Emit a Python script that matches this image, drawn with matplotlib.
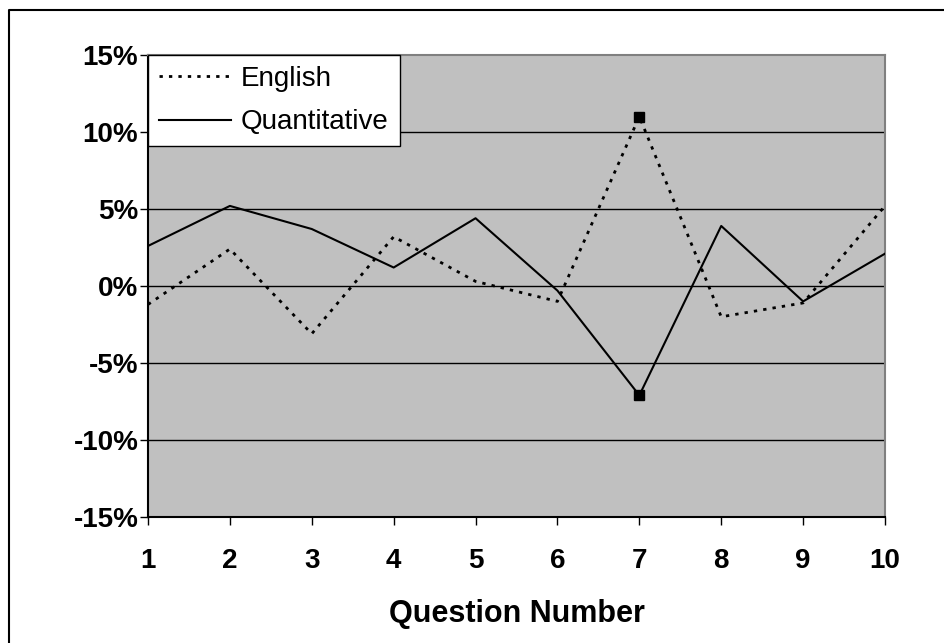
import matplotlib
matplotlib.use('Agg')
import matplotlib.pyplot as plt
from matplotlib.lines import Line2D
from matplotlib.ticker import FuncFormatter

# chart data (differences, in percent)
questions = [1, 2, 3, 4, 5, 6, 7, 8, 9, 10]
english = [-1.2, 2.4, -3.1, 3.2, 0.3, -1.0, 11.0, -2.0, -1.1, 5.2]
quantitative = [2.6, 5.2, 3.7, 1.2, 4.4, -0.3, -7.1, 3.9, -1.0, 2.1]
y_ticks = [-15, -10, -5, 0, 5, 10, 15]
marked = 6  # question 7 carries a marker on both series

plt.rcParams['font.family'] = ['Liberation Sans', 'DejaVu Sans']

fig = plt.figure(figsize=(9.44, 6.43), dpi=100)
ax = fig.add_axes([148 / 944, 1 - 517 / 643, 737 / 944, 462 / 643])
ax.set_facecolor('#c0c0c0')

# horizontal gridlines
for v in y_ticks[1:-1]:
    ax.axhline(v, color='black', lw=1, zorder=1)

ax.plot(questions, english, color='black', lw=2, linestyle=(0, (1.2, 2.2)),
        label='English', zorder=3)
ax.plot(questions, quantitative, color='black', lw=1.5, linestyle='-',
        label='Quantitative', zorder=3)
ax.plot([questions[marked]], [english[marked]], 's', color='black',
        markersize=7.5, zorder=4)
ax.plot([questions[marked]], [quantitative[marked]], 's', color='black',
        markersize=7.5, zorder=4)

ax.set_xlim(1, 10)
ax.set_ylim(-15, 15)
ax.set_xticks(questions)
ax.set_yticks(y_ticks)
ax.yaxis.set_major_formatter(FuncFormatter(lambda v, _: '%d%%' % v))

for lbl in ax.get_xticklabels() + ax.get_yticklabels():
    lbl.set_fontweight('bold')
ax.tick_params(axis='x', direction='out', length=6, width=1, pad=16, labelsize=20)
ax.tick_params(axis='y', direction='out', length=6, width=1, pad=1, labelsize=20)

ax.set_xlabel('Question Number', fontsize=22, fontweight='bold', labelpad=18)

for side in ['top', 'right']:
    ax.spines[side].set_color('#808080')
    ax.spines[side].set_linewidth(1.5)
for side in ['left', 'bottom']:
    ax.spines[side].set_color('black')
    ax.spines[side].set_linewidth(1.5)

leg = ax.legend(loc='upper left', bbox_to_anchor=(0, 1), borderaxespad=0,
                fancybox=False, framealpha=1, edgecolor='black', fontsize=20,
                handlelength=2.6, handletextpad=0.35, borderpad=0.4,
                labelspacing=0.62)
leg.get_frame().set_linewidth(1)

# outer chart-area border (top and left edges visible)
bx = 9 / 944
by = 1 - 10 / 643
fig.add_artist(Line2D([bx, bx, 1], [0, by, by], transform=fig.transFigure,
                      color='black', lw=1.5))

fig.savefig('out.png', dpi=100)
